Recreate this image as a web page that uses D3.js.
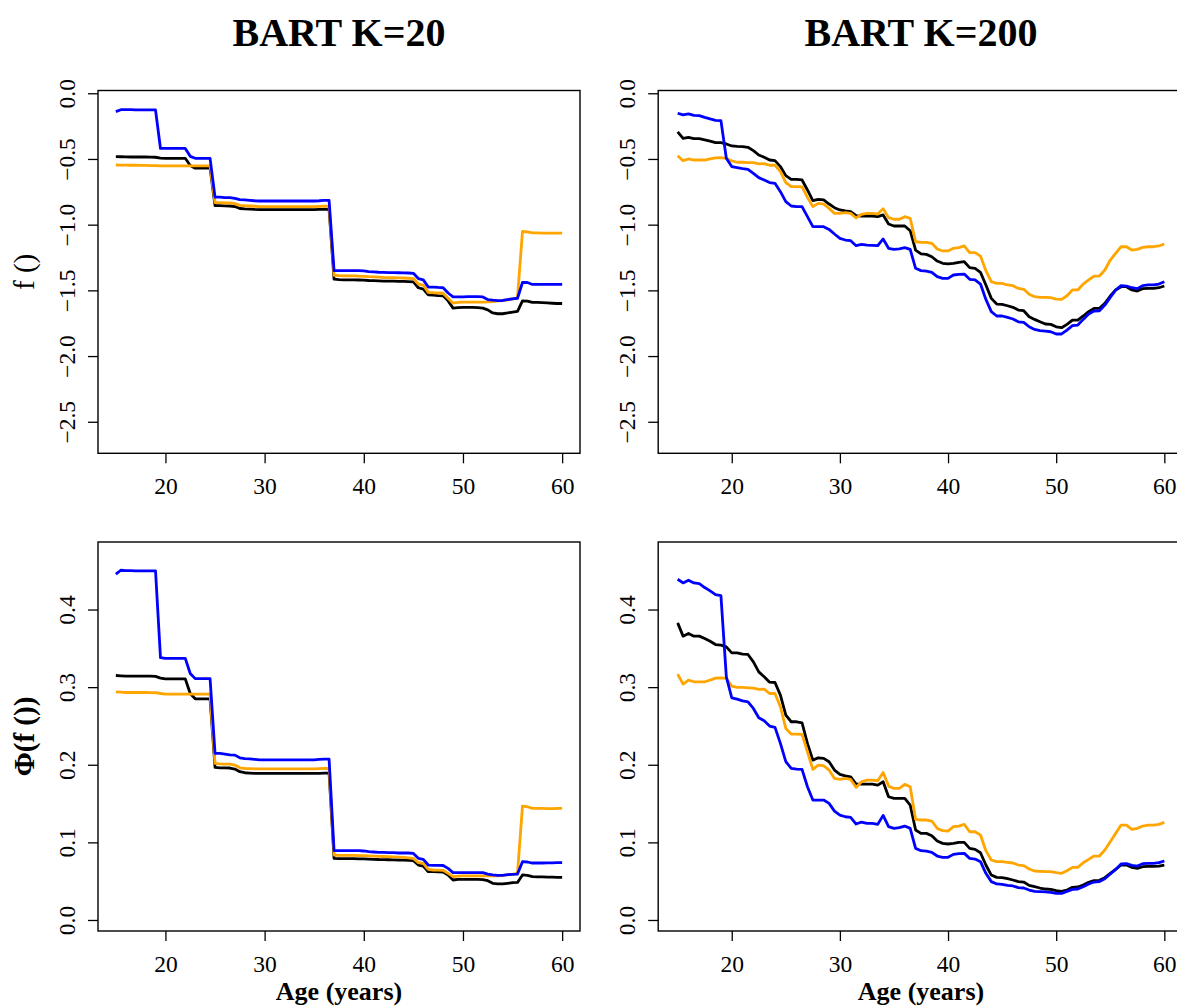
<!DOCTYPE html>
<html>
<head>
<meta charset="utf-8">
<script src="https://cdn.jsdelivr.net/npm/d3@7"></script>
<style>
body { margin: 0; background: #fff; }
svg { display: block; }
</style>
</head>
<body>
<svg width="1177" height="1007"></svg>
<script>
// ages at which the partial dependence was evaluated
var ages = [15, 15.5, 16, 16.5, 17, 17.5, 18, 18.5, 19, 19.5,
  20, 20.5, 21, 21.5, 22, 22.5, 23, 23.5, 24, 24.5,
  25, 25.5, 26, 26.5, 27, 27.5, 28, 28.5, 29, 29.5,
  30, 30.5, 31, 31.5, 32, 32.5, 33, 33.5, 34, 34.5,
  35, 35.5, 36, 36.5, 37, 37.5, 38, 38.5, 39, 39.5,
  40, 40.5, 41, 41.5, 42, 42.5, 43, 43.5, 44, 44.5,
  45, 45.5, 46, 46.5, 47, 47.5, 48, 48.5, 49, 49.5,
  50, 50.5, 51, 51.5, 52, 52.5, 53, 53.5, 54, 54.5,
  55, 55.5, 56, 56.5, 57, 57.5, 58, 58.5, 59, 59.5,
  60];

var xTicks = [20, 30, 40, 50, 60];
var fTicks = [0, -0.5, -1, -1.5, -2, -2.5];
var pTicks = [0, 0.1, 0.2, 0.3, 0.4];

// ---- BART K=20, f() ----
var k20fBlack = [-0.482, -0.483, -0.484, -0.485, -0.485, -0.485, -0.485, -0.486, -0.487, -0.493,
  -0.495, -0.495, -0.495, -0.495, -0.495, -0.55, -0.57, -0.57, -0.57, -0.57,
  -0.855, -0.855, -0.857, -0.858, -0.862, -0.877, -0.88, -0.882, -0.884, -0.885,
  -0.885, -0.885, -0.885, -0.885, -0.885, -0.885, -0.885, -0.885, -0.885, -0.885,
  -0.885, -0.884, -0.883, -0.883, -1.415, -1.418, -1.42, -1.42, -1.42, -1.421,
  -1.422, -1.425, -1.426, -1.428, -1.43, -1.43, -1.43, -1.431, -1.432, -1.434,
  -1.436, -1.48, -1.49, -1.535, -1.537, -1.54, -1.542, -1.58, -1.635, -1.632,
  -1.63, -1.63, -1.63, -1.632, -1.635, -1.648, -1.672, -1.678, -1.678, -1.672,
  -1.665, -1.66, -1.58, -1.582, -1.592, -1.592, -1.594, -1.596, -1.598, -1.6,
  -1.6];
var k20fOrange = [-0.546, -0.547, -0.547, -0.548, -0.548, -0.549, -0.549, -0.55, -0.55, -0.552,
  -0.553, -0.553, -0.553, -0.553, -0.553, -0.553, -0.553, -0.553, -0.553, -0.553,
  -0.832, -0.833, -0.835, -0.835, -0.84, -0.853, -0.856, -0.858, -0.86, -0.862,
  -0.862, -0.862, -0.862, -0.862, -0.862, -0.862, -0.862, -0.862, -0.862, -0.862,
  -0.862, -0.861, -0.86, -0.86, -1.385, -1.388, -1.39, -1.39, -1.39, -1.392,
  -1.393, -1.396, -1.398, -1.4, -1.402, -1.403, -1.404, -1.405, -1.406, -1.408,
  -1.41, -1.452, -1.46, -1.515, -1.518, -1.52, -1.522, -1.56, -1.598, -1.592,
  -1.59, -1.59, -1.59, -1.59, -1.59, -1.588, -1.585, -1.58, -1.578, -1.572,
  -1.565, -1.552, -1.052, -1.055, -1.063, -1.063, -1.064, -1.065, -1.065, -1.065,
  -1.065];
var k20fBlue = [-0.14, -0.125, -0.125, -0.125, -0.127, -0.127, -0.127, -0.127, -0.127, -0.42,
  -0.42, -0.42, -0.42, -0.42, -0.42, -0.48, -0.495, -0.495, -0.495, -0.495,
  -0.79, -0.79, -0.795, -0.795, -0.8, -0.81, -0.812, -0.815, -0.818, -0.82,
  -0.82, -0.82, -0.82, -0.82, -0.82, -0.82, -0.82, -0.82, -0.82, -0.82,
  -0.82, -0.818, -0.815, -0.815, -1.35, -1.35, -1.35, -1.35, -1.35, -1.35,
  -1.352, -1.358, -1.36, -1.362, -1.363, -1.365, -1.365, -1.366, -1.367, -1.368,
  -1.37, -1.41, -1.42, -1.475, -1.475, -1.478, -1.48, -1.52, -1.55, -1.55,
  -1.55, -1.548, -1.548, -1.548, -1.55, -1.57, -1.575, -1.578, -1.577, -1.57,
  -1.565, -1.56, -1.44, -1.44, -1.455, -1.455, -1.455, -1.455, -1.455, -1.455,
  -1.455];

// ---- BART K=200, f() ----
var k200fBlack = [-0.294, -0.343, -0.335, -0.345, -0.345, -0.355, -0.365, -0.376, -0.376, -0.386,
  -0.401, -0.404, -0.406, -0.411, -0.437, -0.47, -0.487, -0.508, -0.513, -0.558,
  -0.627, -0.655, -0.655, -0.66, -0.736, -0.817, -0.807, -0.812, -0.843, -0.871,
  -0.888, -0.896, -0.901, -0.931, -0.934, -0.934, -0.934, -0.939, -0.926, -0.995,
  -1.01, -1.01, -1.01, -1.046, -1.193, -1.223, -1.226, -1.244, -1.277, -1.294,
  -1.299, -1.294, -1.287, -1.282, -1.327, -1.332, -1.363, -1.459, -1.561, -1.604,
  -1.607, -1.617, -1.629, -1.65, -1.655, -1.701, -1.721, -1.739, -1.756, -1.759,
  -1.777, -1.784, -1.759, -1.726, -1.726, -1.695, -1.662, -1.637, -1.637, -1.599,
  -1.543, -1.497, -1.472, -1.472, -1.497, -1.505, -1.487, -1.485, -1.485, -1.48,
  -1.467];
var k200fOrange = [-0.475, -0.513, -0.5, -0.508, -0.508, -0.508, -0.5, -0.492, -0.49, -0.495,
  -0.515, -0.525, -0.525, -0.528, -0.528, -0.538, -0.536, -0.548, -0.548, -0.596,
  -0.68, -0.711, -0.711, -0.713, -0.792, -0.863, -0.838, -0.843, -0.876, -0.914,
  -0.914, -0.909, -0.914, -0.949, -0.921, -0.914, -0.914, -0.919, -0.878, -0.947,
  -0.959, -0.959, -0.939, -0.952, -1.13, -1.135, -1.135, -1.142, -1.185, -1.2,
  -1.2, -1.18, -1.175, -1.162, -1.213, -1.213, -1.239, -1.35, -1.434, -1.447,
  -1.447, -1.459, -1.464, -1.485, -1.492, -1.53, -1.548, -1.553, -1.553, -1.556,
  -1.566, -1.569, -1.541, -1.497, -1.497, -1.452, -1.421, -1.391, -1.391, -1.345,
  -1.269, -1.218, -1.168, -1.168, -1.193, -1.188, -1.173, -1.168, -1.168, -1.162,
  -1.147];
var k200fBlue = [-0.152, -0.165, -0.157, -0.168, -0.17, -0.183, -0.195, -0.206, -0.208, -0.495,
  -0.558, -0.566, -0.574, -0.579, -0.609, -0.642, -0.66, -0.68, -0.685, -0.749,
  -0.825, -0.858, -0.863, -0.863, -0.939, -1.015, -1.015, -1.015, -1.036, -1.071,
  -1.104, -1.117, -1.122, -1.16, -1.15, -1.155, -1.157, -1.16, -1.109, -1.18,
  -1.188, -1.185, -1.175, -1.188, -1.332, -1.35, -1.353, -1.363, -1.396, -1.409,
  -1.409, -1.383, -1.378, -1.376, -1.416, -1.421, -1.452, -1.569, -1.662, -1.695,
  -1.695, -1.706, -1.718, -1.739, -1.744, -1.777, -1.797, -1.807, -1.81, -1.815,
  -1.832, -1.832, -1.802, -1.769, -1.764, -1.721, -1.68, -1.657, -1.655, -1.612,
  -1.553, -1.497, -1.464, -1.467, -1.48, -1.487, -1.464, -1.459, -1.459, -1.452,
  -1.434];

// ---- BART K=20, Phi(f()) ----
var k20pBlack = [0.315, 0.3146, 0.3142, 0.3142, 0.3142, 0.3142, 0.3142, 0.3142, 0.3138, 0.3116,
  0.3107, 0.3107, 0.3107, 0.3107, 0.3107, 0.2918, 0.285, 0.285, 0.285, 0.285,
  0.1966, 0.1961, 0.1961, 0.1958, 0.1944, 0.191, 0.1897, 0.1892, 0.1888, 0.1888,
  0.1888, 0.1888, 0.1888, 0.1888, 0.1888, 0.1888, 0.1888, 0.1888, 0.1888, 0.1888,
  0.1888, 0.189, 0.1892, 0.1893, 0.0794, 0.079, 0.079, 0.079, 0.079, 0.0788,
  0.0786, 0.0785, 0.0782, 0.0779, 0.0778, 0.0776, 0.0775, 0.0773, 0.077, 0.0768,
  0.0764, 0.0708, 0.0695, 0.0622, 0.0622, 0.062, 0.0618, 0.058, 0.0515, 0.0522,
  0.0524, 0.0524, 0.0524, 0.0522, 0.052, 0.0506, 0.0472, 0.0464, 0.0464, 0.0472,
  0.0481, 0.0484, 0.058, 0.0575, 0.0558, 0.0556, 0.0555, 0.0553, 0.0551, 0.055,
  0.0549];
var k20pOrange = [0.294, 0.2935, 0.2931, 0.2931, 0.2931, 0.2931, 0.2931, 0.293, 0.2928, 0.2918,
  0.291, 0.291, 0.291, 0.291, 0.291, 0.291, 0.291, 0.291, 0.291, 0.291,
  0.2017, 0.2012, 0.2009, 0.2007, 0.1996, 0.1961, 0.1952, 0.195, 0.1948, 0.1948,
  0.1948, 0.1948, 0.1948, 0.1948, 0.1948, 0.1948, 0.1948, 0.1948, 0.1948, 0.1948,
  0.1948, 0.195, 0.1952, 0.1952, 0.0837, 0.0833, 0.0833, 0.0833, 0.0832, 0.083,
  0.0828, 0.0825, 0.0822, 0.082, 0.0818, 0.0815, 0.0812, 0.081, 0.0806, 0.08,
  0.0794, 0.0738, 0.073, 0.0652, 0.0644, 0.0642, 0.064, 0.0601, 0.0558, 0.0565,
  0.0567, 0.0567, 0.0567, 0.0567, 0.0567, 0.0567, 0.0568, 0.057, 0.0575, 0.058,
  0.0588, 0.0605, 0.1468, 0.1459, 0.1438, 0.1438, 0.1438, 0.1436, 0.1436, 0.1438,
  0.1438];
var k20pBlue = [0.4455, 0.4506, 0.45, 0.45, 0.4498, 0.4498, 0.4498, 0.4498, 0.4498, 0.338,
  0.337, 0.337, 0.337, 0.337, 0.337, 0.3176, 0.311, 0.311, 0.311, 0.311,
  0.2146, 0.2146, 0.2137, 0.2128, 0.2124, 0.209, 0.208, 0.2077, 0.207, 0.2064,
  0.2064, 0.2064, 0.2064, 0.2064, 0.2064, 0.2064, 0.2064, 0.2064, 0.2064, 0.2064,
  0.2064, 0.2068, 0.2073, 0.2073, 0.0893, 0.0893, 0.0893, 0.0893, 0.0893, 0.0893,
  0.0889, 0.088, 0.0876, 0.0872, 0.0872, 0.0867, 0.0867, 0.0863, 0.0863, 0.0863,
  0.0858, 0.0794, 0.0781, 0.0708, 0.0704, 0.0704, 0.0702, 0.0665, 0.061, 0.061,
  0.061, 0.061, 0.061, 0.061, 0.061, 0.0592, 0.058, 0.0575, 0.0575, 0.0584,
  0.0588, 0.0592, 0.0751, 0.0747, 0.0734, 0.0734, 0.0734, 0.0736, 0.0736, 0.0738,
  0.0738];

// ---- BART K=200, Phi(f()) ----
var k200pBlack = [0.3828, 0.3657, 0.3691, 0.3657, 0.3657, 0.3627, 0.3592, 0.3549, 0.3541, 0.3519,
  0.3442, 0.3442, 0.3425, 0.3421, 0.3326, 0.3197, 0.3133, 0.3064, 0.306, 0.2897,
  0.2639, 0.2554, 0.2554, 0.2541, 0.2275, 0.206, 0.209, 0.2082, 0.2039, 0.1931,
  0.1876, 0.1858, 0.1845, 0.1751, 0.1751, 0.1751, 0.1751, 0.1738, 0.1781, 0.1588,
  0.1567, 0.1567, 0.1567, 0.1481, 0.1159, 0.1116, 0.1116, 0.1086, 0.1017, 0.0987,
  0.0979, 0.0987, 0.1, 0.1, 0.0923, 0.091, 0.0867, 0.0708, 0.0579, 0.0549,
  0.0545, 0.0532, 0.0515, 0.0494, 0.0489, 0.0446, 0.0429, 0.0412, 0.0399, 0.0395,
  0.0378, 0.0369, 0.0386, 0.0421, 0.0425, 0.0451, 0.0485, 0.0506, 0.0511, 0.0545,
  0.0601, 0.0652, 0.0708, 0.0708, 0.0678, 0.0665, 0.0687, 0.0691, 0.0691, 0.0695,
  0.0708];
var k200pOrange = [0.3167, 0.3039, 0.309, 0.3069, 0.3069, 0.3069, 0.309, 0.3116, 0.312, 0.3112,
  0.3013, 0.2996, 0.2996, 0.2991, 0.2987, 0.297, 0.2974, 0.2918, 0.2918, 0.2747,
  0.2468, 0.2395, 0.2395, 0.2391, 0.2167, 0.194, 0.1996, 0.1987, 0.1931, 0.1824,
  0.1811, 0.1824, 0.1811, 0.1708, 0.1781, 0.1803, 0.1803, 0.1794, 0.1901, 0.1725,
  0.1695, 0.1695, 0.1747, 0.1717, 0.1296, 0.1288, 0.1288, 0.1275, 0.118, 0.115,
  0.1146, 0.1202, 0.121, 0.1232, 0.1137, 0.1137, 0.1094, 0.0893, 0.0773, 0.0751,
  0.0751, 0.0742, 0.0734, 0.0708, 0.07, 0.0657, 0.0631, 0.0627, 0.0622, 0.0622,
  0.0609, 0.0601, 0.0635, 0.0678, 0.0678, 0.0738, 0.0781, 0.0824, 0.0824, 0.0901,
  0.1009, 0.1116, 0.1223, 0.1223, 0.1167, 0.118, 0.121, 0.1223, 0.1223, 0.1232,
  0.1258];
var k200pBlue = [0.439, 0.4343, 0.4378, 0.4343, 0.4335, 0.4283, 0.424, 0.4193, 0.418, 0.3133,
  0.2863, 0.2845, 0.2824, 0.2811, 0.2725, 0.2605, 0.2567, 0.2498, 0.2481, 0.2275,
  0.2039, 0.1953, 0.1944, 0.194, 0.1717, 0.1545, 0.1545, 0.1545, 0.1502, 0.1403,
  0.1352, 0.133, 0.1322, 0.1236, 0.1262, 0.1245, 0.1245, 0.1232, 0.1348, 0.1202,
  0.118, 0.1189, 0.121, 0.118, 0.0923, 0.0893, 0.0888, 0.0871, 0.0824, 0.0807,
  0.0807, 0.0845, 0.0854, 0.0858, 0.0794, 0.0785, 0.0751, 0.0601, 0.0494, 0.0464,
  0.0459, 0.0446, 0.0438, 0.0416, 0.0412, 0.0386, 0.0369, 0.0365, 0.0361, 0.0356,
  0.0343, 0.0343, 0.0369, 0.0395, 0.0399, 0.0429, 0.0464, 0.0489, 0.0494, 0.0532,
  0.0592, 0.0652, 0.0721, 0.0725, 0.0704, 0.0695, 0.0725, 0.073, 0.073, 0.0738,
  0.076];

var colors = ['#000000', '#FFA500', '#0000FF'];
var serif = '"Liberation Serif", "Times New Roman", serif';

var svg = d3.select('svg');

var panels = [
  {left: 98, right: 580, top: 90.5, bottom: 453.3, yDomain: [-2.74, 0.021], yTicks: fTicks,
   series: [k20fBlack, k20fOrange, k20fBlue], title: 'BART K=20', ylab: 'f ()', xlab: null},
  {left: 658.2, right: 1183.8, top: 90.5, bottom: 453.3, yDomain: [-2.74, 0.021], yTicks: fTicks,
   series: [k200fBlack, k200fOrange, k200fBlue], title: 'BART K=200', ylab: null, xlab: null},
  {left: 98, right: 580, top: 542, bottom: 931, yDomain: [-0.0142, 0.487], yTicks: pTicks,
   series: [k20pBlack, k20pOrange, k20pBlue], title: null, ylab: '\u03A6(f ())', xlab: 'Age (years)'},
  {left: 658.2, right: 1183.8, top: 542, bottom: 931, yDomain: [-0.0142, 0.487], yTicks: pTicks,
   series: [k200pBlack, k200pOrange, k200pBlue], title: null, ylab: null, xlab: 'Age (years)'}
];

panels.forEach(function(p) {
  var x = d3.scaleLinear().domain([13.2, 61.8]).range([p.left, p.right]);
  var y = d3.scaleLinear().domain(p.yDomain).range([p.bottom, p.top]);
  var g = svg.append('g');

  var line = d3.line()
    .x(function(d, i) { return x(ages[i]); })
    .y(function(d) { return y(d); });

  g.selectAll('path.curve')
    .data(p.series).enter().append('path')
    .attr('class', 'curve')
    .attr('d', line)
    .attr('fill', 'none')
    .attr('stroke', function(d, i) { return colors[i]; })
    .attr('stroke-width', 2.8)
    .attr('stroke-linejoin', 'round');

  g.append('rect')
    .attr('x', p.left).attr('y', p.top)
    .attr('width', p.right - p.left).attr('height', p.bottom - p.top)
    .attr('fill', 'none').attr('stroke', '#000').attr('stroke-width', 1.4);

  // x axis
  var xa = g.append('g')
    .attr('transform', 'translate(0,' + p.bottom + ')')
    .call(d3.axisBottom(x).tickValues(xTicks).tickSize(10).tickFormat(d3.format('d')));
  xa.select('.domain').remove();
  xa.selectAll('line').attr('stroke-width', 1.3);
  xa.selectAll('text').attr('y', 40.5).attr('dy', null)
    .style('font-family', serif).style('font-size', '23.5px');

  // y axis, labels turned parallel to the axis
  var ya = g.append('g')
    .attr('transform', 'translate(' + p.left + ',0)')
    .call(d3.axisLeft(y).tickValues(p.yTicks).tickSize(10).tickFormat(d3.format('.1f')));
  ya.select('.domain').remove();
  ya.selectAll('line').attr('stroke-width', 1.3);
  ya.selectAll('text')
    .attr('x', 0).attr('dy', null)
    .attr('text-anchor', 'middle')
    .attr('transform', 'translate(-23.5,0) rotate(-90)')
    .style('font-family', serif).style('font-size', '23.5px');

  var cx = (p.left + p.right) / 2;
  if (p.title) {
    svg.append('text').attr('x', cx).attr('y', 46)
      .attr('text-anchor', 'middle')
      .style('font-family', serif)
      .style('font-size', '40px').style('font-weight', 'bold')
      .text(p.title);
  }
  if (p.xlab) {
    svg.append('text').attr('x', cx).attr('y', 1000)
      .attr('text-anchor', 'middle')
      .style('font-family', serif)
      .style('font-size', '26px').style('font-weight', 'bold')
      .text(p.xlab);
  }
  if (p.ylab) {
    svg.append('text')
      .attr('transform', 'translate(34,' + ((p.top + p.bottom) / 2) + ') rotate(-90)')
      .attr('text-anchor', 'middle')
      .style('font-family', serif)
      .style('font-size', '29px')
      .style('font-weight', p.xlab ? 'bold' : 'normal')
      .text(p.ylab);
  }
});
</script>
</body>
</html>
